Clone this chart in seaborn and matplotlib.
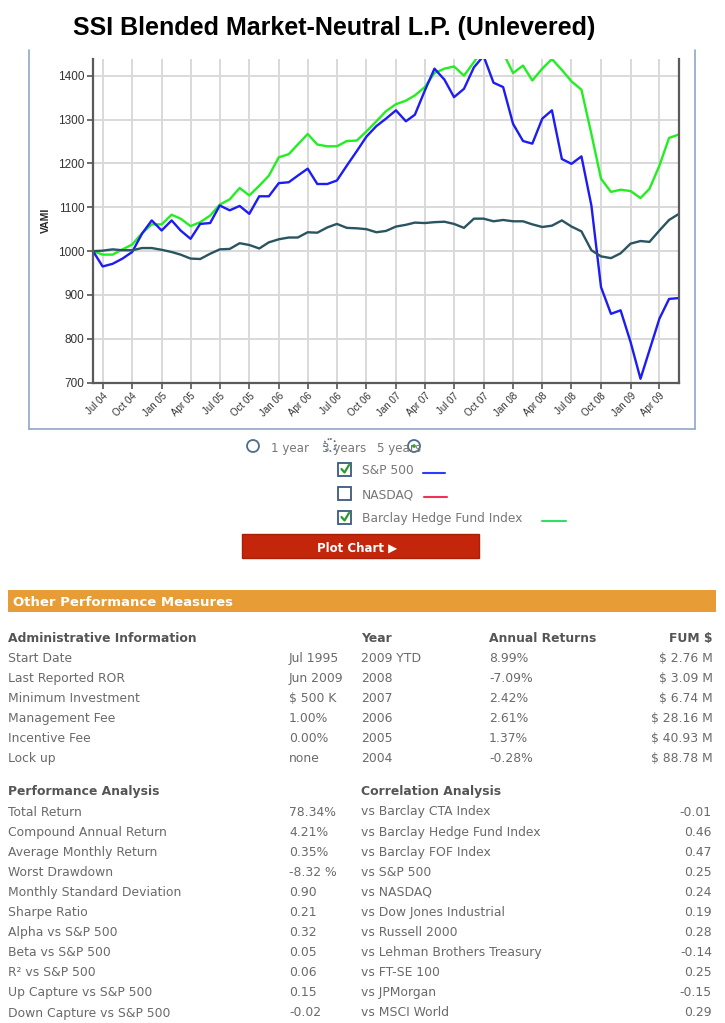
import matplotlib
matplotlib.use("Agg")
import numpy as np
import pandas as pd
import matplotlib.pyplot as plt
from matplotlib.patches import Rectangle, Circle
import seaborn as sns

# ------- chart data (VAMI, monthly, Jun 2004 - Jun 2009) -------
months = pd.date_range("2004-06-01", periods=61, freq="MS")

sp500 = [1000, 965, 971, 983, 998, 1040, 1070, 1047, 1070, 1047, 1028, 1062, 1064,
         1104, 1093, 1103, 1085, 1125, 1125, 1155, 1157, 1172, 1188, 1153, 1153,
         1161, 1195, 1228, 1261, 1285, 1302, 1321, 1296, 1311, 1366, 1416, 1391,
         1351, 1370, 1419, 1445, 1384, 1374, 1290, 1251, 1245, 1302, 1321, 1210,
         1199, 1216, 1104, 918, 857, 865, 793, 709, 774, 846, 891, 893]

barclay = [1000, 992, 992, 1004, 1015, 1041, 1061, 1061, 1083, 1074, 1057, 1066, 1081,
           1106, 1118, 1144, 1127, 1149, 1172, 1214, 1221, 1243, 1267, 1243, 1239,
           1239, 1251, 1252, 1273, 1296, 1319, 1335, 1343, 1355, 1374, 1406, 1416,
           1421, 1400, 1431, 1462, 1470, 1452, 1406, 1423, 1389, 1416, 1438, 1413,
           1387, 1368, 1267, 1165, 1135, 1140, 1137, 1121, 1142, 1195, 1258, 1266]

fund = [1000, 1001, 1004, 1002, 1002, 1007, 1007, 1003, 998, 992, 983, 982, 994,
        1004, 1005, 1018, 1014, 1006, 1020, 1027, 1031, 1031, 1043, 1042, 1054,
        1062, 1053, 1052, 1050, 1043, 1046, 1056, 1060, 1065, 1064, 1066, 1067,
        1062, 1053, 1074, 1074, 1068, 1071, 1068, 1068, 1061, 1055, 1058, 1070,
        1056, 1045, 1002, 988, 984, 995, 1017, 1023, 1021, 1047, 1071, 1085]

y_ticks = [700, 800, 900, 1000, 1100, 1200, 1300, 1400]
period_options = ["1 year", "3 years", "5 years"]
index_options = ["S&P 500", "NASDAQ", "Barclay Hedge Fund Index"]
index_checked = [True, False, True]

# ------- table data -------
admin_labels = ["Start Date", "Last Reported ROR", "Minimum Investment",
                "Management Fee", "Incentive Fee", "Lock up"]
admin_values = ["Jul 1995", "Jun 2009", "$ 500 K", "1.00%", "0.00%", "none"]
years = ["2009 YTD", "2008", "2007", "2006", "2005", "2004"]
annual_returns = ["8.99%", "-7.09%", "2.42%", "2.61%", "1.37%", "-0.28%"]
fum = ["$ 2.76 M", "$ 3.09 M", "$ 6.74 M", "$ 28.16 M", "$ 40.93 M", "$ 88.78 M"]

perf_labels = ["Total Return", "Compound Annual Return", "Average Monthly Return",
               "Worst Drawdown", "Monthly Standard Deviation", "Sharpe Ratio",
               "Alpha vs S&P 500", "Beta vs S&P 500", "R\u00b2 vs S&P 500",
               "Up Capture vs S&P 500", "Down Capture vs S&P 500"]
perf_values = ["78.34%", "4.21%", "0.35%", "-8.32 %", "0.90", "0.21", "0.32",
               "0.05", "0.06", "0.15", "-0.02"]
corr_labels = ["vs Barclay CTA Index", "vs Barclay Hedge Fund Index", "vs Barclay FOF Index",
               "vs S&P 500", "vs NASDAQ", "vs Dow Jones Industrial", "vs Russell 2000",
               "vs Lehman Brothers Treasury", "vs FT-SE 100", "vs JPMorgan", "vs MSCI World"]
corr_values = ["-0.01", "0.46", "0.47", "0.25", "0.24", "0.19", "0.28", "-0.14",
               "0.25", "-0.15", "0.29"]

colors = {"Barclay Hedge Fund Index": "#22ee22", "S&P 500": "#1c1cf5",
          "SSI Blended Market-Neutral": "#2a5560"}

df = pd.DataFrame({"month": months, "Barclay Hedge Fund Index": barclay,
                   "S&P 500": sp500, "SSI Blended Market-Neutral": fund})
df = df.melt(id_vars="month", var_name="series", value_name="vami")

sns.set_theme(style="white")
plt.rcParams["font.family"] = ["DejaVu Sans"]

W, H = 725, 1023
fig = plt.figure(figsize=(W / 100, H / 100), dpi=100)

# overlay in pixel coordinates for the page elements
ov = fig.add_axes([0, 0, 1, 1])
ov.set_xlim(0, W)
ov.set_ylim(H, 0)
ov.axis("off")

ov.text(334, 28, "SSI Blended Market-Neutral L.P. (Unlevered)", ha="center", va="center",
        fontsize=18, fontweight="bold", family="Liberation Sans", color="black")

# chart frame
frame_c = "#8fa6c8"
ov.plot([29, 29], [50, 429], color=frame_c, lw=1.2)
ov.plot([695, 695], [50, 429], color=frame_c, lw=1.2)
ov.plot([29, 695], [429, 429], color=frame_c, lw=1.2)

# ------- the chart -------
ax = fig.add_axes([93 / W, 1 - 382.7 / H, 586 / W, (382.7 - 59) / H])
ax.set_zorder(5)
sns.lineplot(data=df, x="month", y="vami", hue="series", palette=colors,
             linewidth=1.7, ax=ax, legend=False)
ax.set_xlim(months[0], months[-1])
ax.set_ylim(700, 1438)
ax.set_yticks(y_ticks)
ax.set_yticklabels([str(v) for v in y_ticks], family="Liberation Sans", fontsize=8.5, color="#333333")
qticks = months[1::3]
ax.set_xticks(qticks)
ax.set_xticklabels([d.strftime("%b %y") for d in qticks], rotation=45, ha="right",
                   rotation_mode="anchor", family="Liberation Sans", fontsize=7, color="#333333")
ax.tick_params(axis="both", direction="out", length=4, width=1.2, color="#555555", pad=2,
               bottom=True, left=True)
ax.grid(True, color="#d9d9d9", lw=1.4)
ax.set_axisbelow(True)
for side in ["left", "bottom", "right"]:
    ax.spines[side].set_color("#5a5a5a")
    ax.spines[side].set_linewidth(1.6)
ax.spines["top"].set_visible(False)
ax.set_xlabel("")
ax.set_ylabel("VAMI", fontsize=7.5, fontweight="bold", family="Liberation Sans", labelpad=5)

# ------- period radios -------
txt_c = "#777777"
vb = "center_baseline"
ov.text(271, 447, period_options[0], fontsize=8.6, color=txt_c, va=vb)
ov.text(322, 447, period_options[1], fontsize=8.6, color=txt_c, va=vb)
ov.text(377, 447, period_options[2], fontsize=8.6, color=txt_c, va=vb)
ov.add_patch(Circle((253, 446), 6, facecolor="white", edgecolor="#4d6d8d", lw=1.3))
ov.add_patch(Circle((330, 445), 6, facecolor="white", edgecolor="#4d6d8d", lw=1.2, ls=":"))
ov.add_patch(Circle((414, 446), 6, facecolor="white", edgecolor="#4d6d8d", lw=1.3))
ov.add_patch(Circle((414, 446), 1.8, facecolor="#2aa02a", edgecolor="none"))

# ------- index checkboxes -------
legend_lines = [("#2a3cff", 423, 445), ("#ee3355", 424, 447), ("#33dd66", 542, 566)]
for k, name in enumerate(index_options):
    yc = 469 + 24 * k
    ov.add_patch(Rectangle((338.5, yc - 6.5), 13, 13, facecolor="white",
                           edgecolor="#3a5a80", lw=1.3))
    if index_checked[k]:
        ov.plot([341.5, 344.5, 349], [yc, yc + 3.5, yc - 4], color="#2a9a2a", lw=1.6)
    ov.text(362, yc, name, fontsize=8.8, color=txt_c, va=vb)
    c, x0, x1 = legend_lines[k]
    ov.plot([x0, x1], [yc + 4, yc + 4], color=c, lw=1.5)

# plot chart button
ov.add_patch(Rectangle((242, 534), 237, 24, facecolor="#c4260c", edgecolor="#a82008", lw=1))
ov.text(357, 546.5, "Plot Chart \u25b6", ha="center", va=vb, fontsize=8.5,
        fontweight="bold", color="white")

# ------- other performance measures -------
ov.add_patch(Rectangle((8, 590), 708, 22, facecolor="#e89c35", edgecolor="none"))
ov.text(13, 601.5, "Other Performance Measures", fontsize=9.5, fontweight="bold",
        color="white", va=vb)

hdr_c = "#555555"
row_c = "#6a6a6a"
fs = 8.9

y0 = 637
ov.text(8, y0, "Administrative Information", fontsize=fs, fontweight="semibold", color=hdr_c, va=vb)
ov.text(361, y0, "Year", fontsize=fs, fontweight="semibold", color=hdr_c, va=vb)
ov.text(489, y0, "Annual Returns", fontsize=fs, fontweight="semibold", color=hdr_c, va=vb)
ov.text(713, y0, "FUM $", fontsize=fs, fontweight="semibold", color=hdr_c, va=vb, ha="right")
for k in range(len(admin_labels)):
    yy = 657 + 20 * k
    ov.text(8, yy, admin_labels[k], fontsize=fs, color=row_c, va=vb)
    ov.text(289, yy, admin_values[k], fontsize=fs, color=row_c, va=vb)
    ov.text(361, yy, years[k], fontsize=fs, color=row_c, va=vb)
    ov.text(489, yy, annual_returns[k], fontsize=fs, color=row_c, va=vb)
    ov.text(713, yy, fum[k], fontsize=fs, color=row_c, va=vb, ha="right")

y1 = 790
ov.text(8, y1, "Performance Analysis", fontsize=fs, fontweight="semibold", color=hdr_c, va=vb)
ov.text(361, y1, "Correlation Analysis", fontsize=fs, fontweight="semibold", color=hdr_c, va=vb)
for k in range(len(perf_labels)):
    yy = 810.5 + 20.1 * k
    ov.text(8, yy, perf_labels[k], fontsize=fs, color=row_c, va=vb)
    ov.text(289, yy, perf_values[k], fontsize=fs, color=row_c, va=vb)
    ov.text(361, yy, corr_labels[k], fontsize=fs, color=row_c, va=vb)
    ov.text(712, yy, corr_values[k], fontsize=fs, color=row_c, va=vb, ha="right")

fig.savefig("out.png", dpi=100, facecolor="white")
